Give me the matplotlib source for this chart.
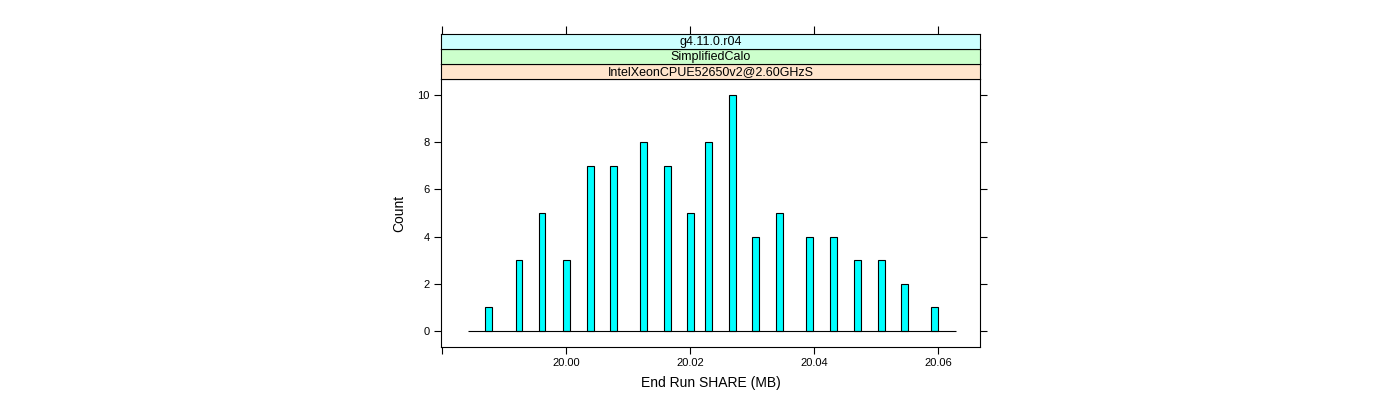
import matplotlib
matplotlib.use("Agg")
import matplotlib.pyplot as plt

plt.rcParams['font.family'] = ['Liberation Sans', 'DejaVu Sans']

# bar centres (MB) and counts
share = [19.9875, 19.9924, 19.9961, 20.0000, 20.0039, 20.0076, 20.0125,
         20.0163, 20.0201, 20.0230, 20.0269, 20.0306, 20.0345, 20.0393,
         20.0431, 20.0470, 20.0509, 20.0546, 20.0595]
counts = [1, 3, 5, 3, 7, 7, 8, 7, 5, 8, 10, 4, 5, 4, 4, 3, 3, 2, 1]
bin_range = (19.9841, 20.0629)
strips = ["IntelXeonCPUE52650v2@2.60GHzS", "SimplifiedCalo", "g4.11.0.r04"]
strip_cols = ["#ffe5cc", "#ccffcc", "#ccffff"]

fig = plt.figure(figsize=(14, 4), dpi=100)
ax = fig.add_axes([0.315, 0.1325, 0.385, 0.67])

ax.bar(share, counts, width=0.0011, color="#00ffff", edgecolor="black", linewidth=0.8)
ax.hlines(0, bin_range[0], bin_range[1], color="black", linewidth=0.8)

ax.set_xlim(19.9798, 20.0668)
ax.set_ylim(-0.68, 10.68)
ax.set_xticks([19.98, 20.00, 20.02, 20.04, 20.06])
ax.set_xticklabels(["", "20.00", "20.02", "20.04", "20.06"])
ax.set_yticks([0, 2, 4, 6, 8, 10])
ax.tick_params(direction="out", length=5, width=0.8, labelsize=8, right=True, pad=3)
ax.set_xlabel("End Run SHARE (MB)", fontsize=10, labelpad=6)
ax.set_ylabel("Count", fontsize=10, labelpad=8)
for s in ax.spines.values():
    s.set_linewidth(0.8)

# strips
h = 0.0375
for i, (lab, col) in enumerate(zip(strips, strip_cols)):
    sax = fig.add_axes([0.315, 0.8025 + i * h, 0.385, h], sharex=ax)
    sax.set_facecolor(col)
    sax.set_yticks([])
    sax.text(0.5, 0.45, lab, transform=sax.transAxes, ha="center", va="center", fontsize=9)
    for s in sax.spines.values():
        s.set_linewidth(0.8)
    if i == len(strips) - 1:
        sax.tick_params(axis="x", bottom=False, labelbottom=False, top=True,
                        direction="out", length=6, width=0.8)
    else:
        sax.tick_params(axis="x", bottom=False, labelbottom=False)

fig.savefig("out.png", dpi=100)
